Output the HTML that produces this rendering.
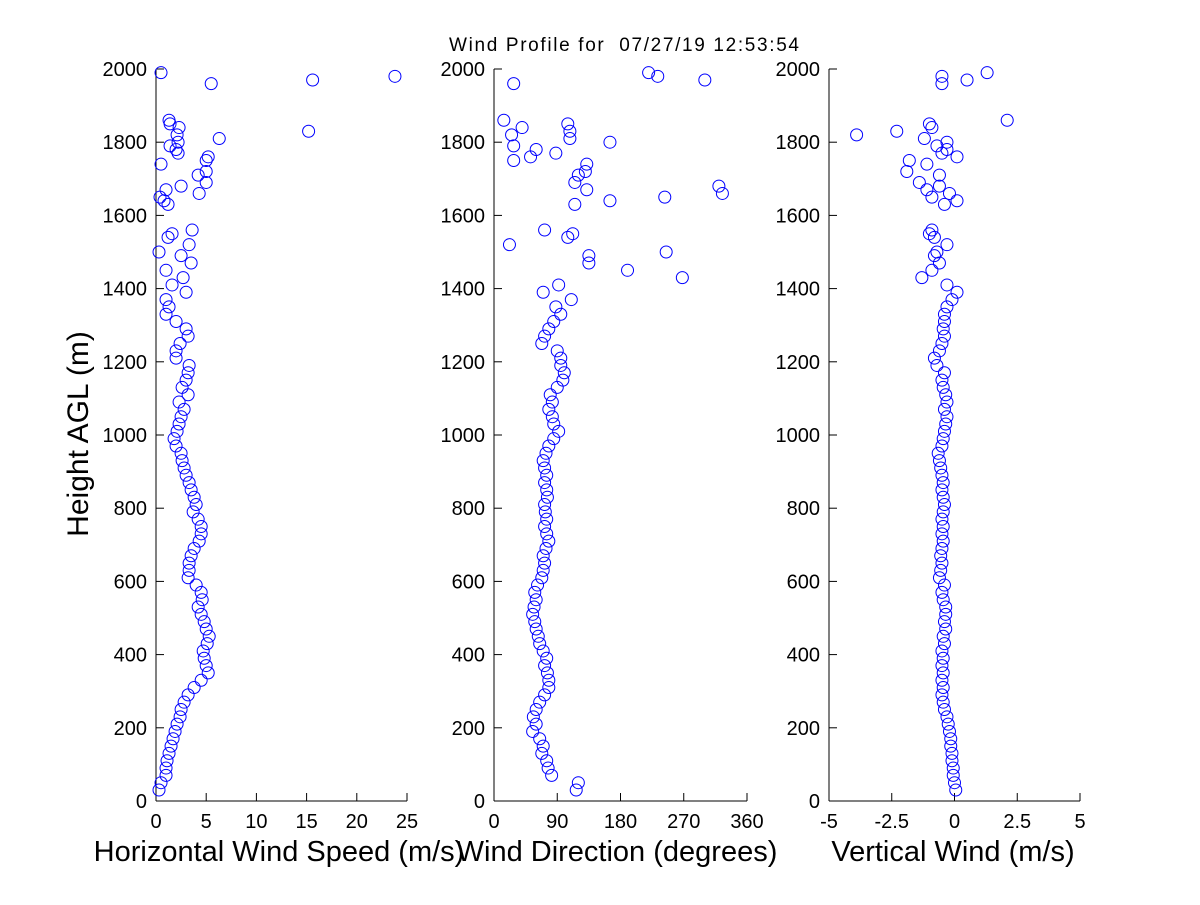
<!DOCTYPE html>
<html><head><meta charset="utf-8"><style>
html,body{margin:0;padding:0;background:#fff;}
svg text{font-family:"Liberation Sans",Arial,sans-serif;fill:#000;}
</style></head><body>
<svg id="chart" width="1200" height="900" viewBox="0 0 1200 900" xmlns="http://www.w3.org/2000/svg">
<rect width="1200" height="900" fill="#fff"/>
<text x="624" y="51" font-size="19" text-anchor="middle" textLength="350" lengthAdjust="spacing" xml:space="preserve">Wind Profile for  07/27/19 12:53:54</text>
<text transform="translate(88,434) rotate(-90)" font-size="30" text-anchor="middle">Height AGL (m)</text>
</svg>
<script>
const heights = [30,50,70,90,110,130,150,170,190,210,230,250,270,290,310,330,350,370,390,410,430,450,470,490,510,530,550,570,590,610,630,650,670,690,710,730,750,770,790,810,830,850,870,890,910,930,950,970,990,1010,1030,1050,1070,1090,1110,1130,1150,1170,1190,1210,1230,1250,1270,1290,1310,1330,1350,1370,1390,1410,
1430,1450,1470,1490,1500,1520,1540,1550,1560,1630,1640,1650,1660,1670,1680,1690,1710,1720,1740,1750,1760,1770,1780,1790,1800,1810,1830,1840,1850,1860,1960,1970,1980,1990,1820];
const speed = [0.3,0.5,1,1,1.1,1.3,1.5,1.7,1.9,2.1,2.4,2.5,2.8,3.2,3.8,4.5,5.2,5,4.8,4.7,5.1,5.3,5,4.8,4.5,4.2,4.6,4.5,4,3.2,3.3,3.3,3.5,3.8,4.3,4.5,4.5,4.2,3.7,4,3.8,3.5,3.3,3,2.8,2.6,2.5,2,1.8,2.1,2.3,2.5,2.8,2.3,3.2,2.6,3,3.2,3.3,2,2,2.4,3.2,3,2,1,1.3,1,3,1.6,
2.7,1,3.5,2.5,0.3,3.3,1.2,1.6,3.6,1.2,0.8,0.4,4.3,1,2.5,5,4.2,5,0.5,5,5.2,2.2,2,1.4,2.2,6.3,15.2,2.3,1.4,1.3,5.5,15.6,23.8,0.5,2.1];
const direction = [117,120,82,77,75,68,70,65,55,60,56,60,65,72,78,78,76,72,75,70,65,63,60,58,55,57,60,58,62,68,70,72,70,74,78,75,72,75,73,72,76,75,72,75,72,70,74,78,85,92,85,83,78,83,80,90,98,100,95,95,90,68,72,78,85,95,88,110,70,92,
268,190,135,135,245,22,105,112,72,115,165,243,325,132,320,115,120,130,132,28,52,88,60,28,165,108,108,40,105,14,28,300,233,220,25];
const vertical = [0.05,0,-0.05,-0.05,-0.1,-0.1,-0.15,-0.15,-0.2,-0.25,-0.3,-0.4,-0.45,-0.5,-0.45,-0.5,-0.45,-0.5,-0.45,-0.5,-0.4,-0.45,-0.35,-0.4,-0.35,-0.35,-0.45,-0.5,-0.4,-0.6,-0.55,-0.5,-0.55,-0.5,-0.45,-0.5,-0.45,-0.5,-0.45,-0.4,-0.45,-0.5,-0.45,-0.5,-0.55,-0.6,-0.65,-0.5,-0.45,-0.4,-0.35,-0.3,-0.4,-0.3,-0.35,-0.45,-0.5,-0.4,-0.7,-0.8,-0.6,-0.5,-0.4,-0.45,-0.4,-0.4,-0.3,-0.1,0.1,-0.3,
-1.3,-0.9,-0.6,-0.8,-0.7,-0.3,-0.8,-1,-0.9,-0.4,0.1,-0.9,-0.2,-1.1,-0.6,-1.4,-0.6,-1.9,-1.1,-1.8,0.1,-0.5,-0.3,-0.7,-0.3,-1.2,-2.3,-0.9,-1,2.1,-0.5,0.5,-0.5,1.3,-3.9];
const yTicks = [0,200,400,600,800,1000,1200,1400,1600,1800,2000];
const speedTicks = [0,5,10,15,20,25];
const dirTicks = [0,90,180,270,360];
const vertTicks = [-5,-2.5,0,2.5,5];
const vertTickLabels = ["-5","-2.5","0","2.5","5"];

const NS = "http://www.w3.org/2000/svg";
const svg = document.getElementById("chart");
function mk(tag, attrs, parent){const e=document.createElementNS(NS,tag);for(const k in attrs)e.setAttribute(k,attrs[k]);(parent||svg).appendChild(e);return e;}
const Y0=801, Y1=69;
function yScale(h){return Y0+(h/2000)*(Y1-Y0);}

function panel(name, x0, x1, xmin, xmax, ticks, labels, vals, title, titleX){
  const g = mk("g",{});
  
  
  const xs = v => x0+(v-xmin)/(xmax-xmin)*(x1-x0);
  const ax = mk("line",{x1:x0,y1:Y0,x2:x1,y2:Y0,stroke:"#000","stroke-width":1},g);
  
  
  const ay = mk("line",{x1:x0,y1:Y0,x2:x0,y2:Y1,stroke:"#000","stroke-width":1},g);
  
  
  ticks.forEach((t,i)=>{
    const x=xs(t);
    mk("line",{x1:x,y1:Y0,x2:x,y2:Y0-8,stroke:"#000"},g);
    const tl = mk("text",{x:x,y:Y0+27,"font-size":20,"text-anchor":"middle"},g);
    tl.textContent = labels[i];
    
    
  });
  yTicks.forEach(t=>{
    const y=yScale(t);
    mk("line",{x1:x0,y1:y,x2:x0+8,y2:y,stroke:"#000"},g);
    const tl = mk("text",{x:x0-9,y:y+7,"font-size":20,"text-anchor":"end"},g);
    tl.textContent = String(t);
    
    
  });
  const n=Math.min(heights.length, vals.length);
  for(let i=0;i<n;i++){
    const c = mk("circle",{cx:xs(vals[i]),cy:yScale(heights[i]),r:6,fill:"none",stroke:"#0000ff","stroke-width":1},g);
    
    
  }
  const tt = mk("text",{x:titleX,y:861,"font-size":29,"text-anchor":"middle"},g);
  tt.textContent = title;
  
  
}
panel("speed",156,407,0,25,speedTicks,speedTicks.map(String),speed,"Horizontal Wind Speed (m/s)",279);
panel("direction",494,747,0,360,dirTicks,dirTicks.map(String),direction,"Wind Direction (degrees)",617);
panel("vertical",829,1080,-5,5,vertTicks,vertTickLabels,vertical,"Vertical Wind (m/s)",953);
</script>
</body></html>
